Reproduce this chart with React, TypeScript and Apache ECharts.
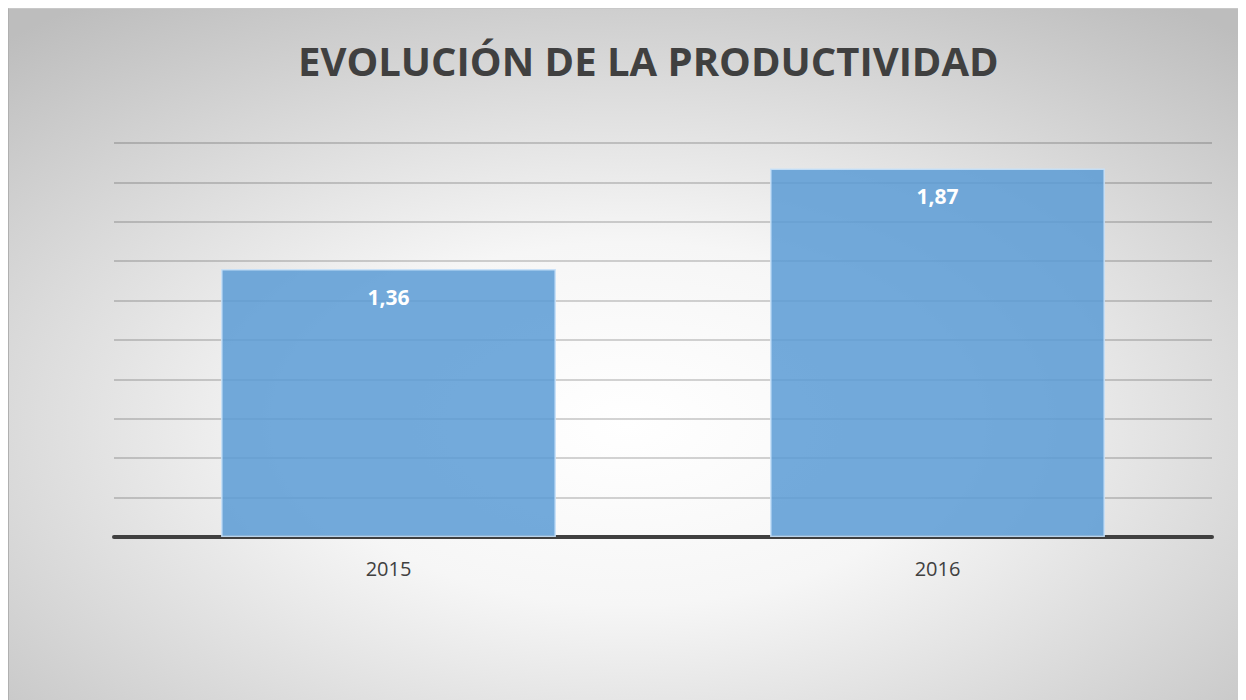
import React, { useEffect, useRef } from "react";
import * as echarts from "echarts";

const categories = ["2015", "2016"];
const productividad = [1.36, 1.87];
const titleText = "EVOLUCIÓN DE LA PRODUCTIVIDAD";

export default function App() {
  const ref = useRef<HTMLDivElement>(null);
  useEffect(() => {
    if (!ref.current) return;
    const chart = echarts.init(ref.current, undefined, { renderer: "svg" });
    chart.setOption({
      animation: false,
      backgroundColor: {
        type: "radial",
        x: 0.5,
        y: 0.6,
        r: 0.75,
        colorStops: [
          { offset: 0, color: "#ffffff" },
          { offset: 0.35, color: "#f6f6f6" },
          { offset: 1, color: "#bdbdbd" },
        ],
      },
      title: {
        text: titleText,
        left: 284,
        top: 26,
        textStyle: {
          fontFamily: "Open Sans",
          fontWeight: "bold",
          fontSize: 40,
          color: "#404040",
        },
      },
      grid: { left: 105, right: 34, top: 134, bottom: 163, containLabel: false },
      xAxis: {
        type: "category",
        data: categories,
        axisLine: { lineStyle: { color: "#404040", width: 4 } },
        axisTick: { show: false },
        axisLabel: {
          fontFamily: "Open Sans",
          fontSize: 20,
          color: "#404040",
          margin: 21,
        },
      },
      yAxis: {
        type: "value",
        min: 0,
        max: 2,
        interval: 0.2,
        axisLabel: { show: false },
        axisLine: { show: false },
        axisTick: { show: false },
        splitLine: { lineStyle: { color: "rgba(0,0,0,0.17)", width: 2 } },
      },
      series: [
        {
          type: "bar",
          data: productividad,
          barCategoryGap: "39%",
          itemStyle: {
            color: "rgba(91,155,213,0.85)",
            borderColor: "rgba(200,225,248,0.9)",
            borderWidth: 1.5,
          },
          label: {
            show: true,
            position: "insideTop",
            distance: 17,
            fontFamily: "Open Sans",
            fontWeight: "bold",
            fontSize: 21,
            color: "#ffffff",
            formatter: (p: any) => p.value.toFixed(2).replace(".", ","),
          },
        },
      ],
    });
    return () => chart.dispose();
  }, []);
  return (
    <div
      ref={ref}
      style={{
        width: 1238,
        height: 692,
        boxSizing: "border-box",
        borderLeft: "1px solid #b0b0b0",
        borderTop: "1px solid #c8c8c8",
      }}
    />
  );
}
